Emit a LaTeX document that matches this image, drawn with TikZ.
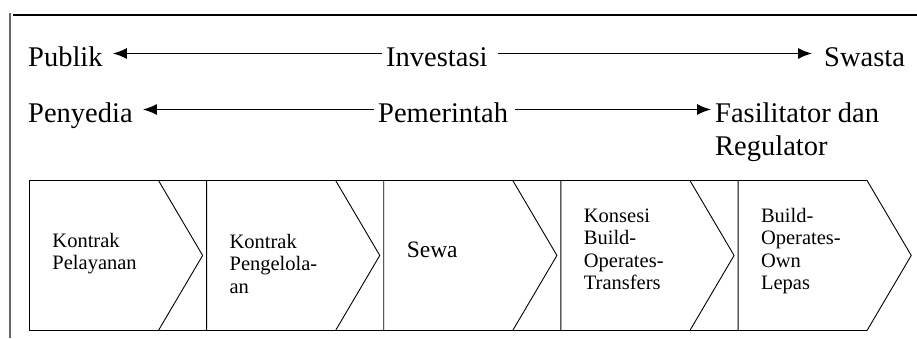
\documentclass[tikz,border=0pt]{standalone}
\usepackage{fontspec}
\setmainfont{Liberation Serif}
\usetikzlibrary{positioning,shapes.symbols,arrows.meta}

\begin{document}
\begin{tikzpicture}[
    x=1pt, y=-1pt,
    node distance = 3pt,
    lbl/.style   = {font=\fontsize{28.5}{33}\selectfont,
                    inner xsep=4pt, inner ysep=0pt},
    row/.style   = {lbl, text height=25pt, text depth=0pt},
    stage/.style = {draw, line width=0.9pt,
                    shape=signal, signal to=east, signal from=nowhere,
                    signal pointer angle=119,
                    minimum height=150pt,
                    inner xsep=23pt,
                    text width=83pt, align=left,
                    text height=14pt, text depth=#1,
                    font={\fontsize{20.5}{22.5}\selectfont
                          \hyphenpenalty=10000\exhyphenpenalty=10000}},
    arr/.style   = {line width=1.4pt,
                    -{Latex[length=14pt,width=11pt]}}
]
\useasboundingbox (0,0) rectangle (917,338);
% frame
\draw[line width=1.5pt] (13,15) -- (917,15);
\draw[line width=1.5pt, black!60] (10,13) -- (10,338);
% investasi
\node (pub) [row, anchor=base west] at (24,66)  {Publik};
\node (inv) [row, anchor=base west] at (382,66) {Investasi};
\node (swa) [row, anchor=base west] at (820,66) {Swasta};
\draw[arr, shorten >=6pt] (inv) -- (pub);
\draw[arr, shorten <=6pt, shorten >=8pt] (inv) -- (swa);
% pemerintah
\node (pen) [row, anchor=base west] at (24,122)  {Penyedia};
\node (pem) [row, anchor=base west] at (374,122) {Pemerintah};
\node (fas) [lbl, anchor=north west, align=left] at (711,102.5) {Fasilitator dan\\Regulator};
\draw[arr, shorten >=6pt] (pem) -- (pen);
\draw[arr, shorten <=3pt] (pem) -- (pem -| fas.west);
% stages
\node (b1) [stage=30pt, anchor=north west] at (29,180) {Kontrak\\Pelayanan};
\node (b2) [stage=28pt, right=of b1] {Kontrak\\Pengelola-\\an};
\node (b3) [stage=10pt, right=of b2, font=\fontsize{23.5}{26}\selectfont] {Sewa};
\node (b4) [stage=80pt, right=of b3] {Konsesi\\Build-\\Operates-\\Transfers};
\node (b5) [stage=80pt, right=of b4] {Build-\\Operates-\\Own\\Lepas};
\draw[line width=0.9pt] (b1.north west) -- (b5.north west);
\draw[line width=0.9pt] (b1.south west) -- (b5.south west);
\end{tikzpicture}
\end{document}
